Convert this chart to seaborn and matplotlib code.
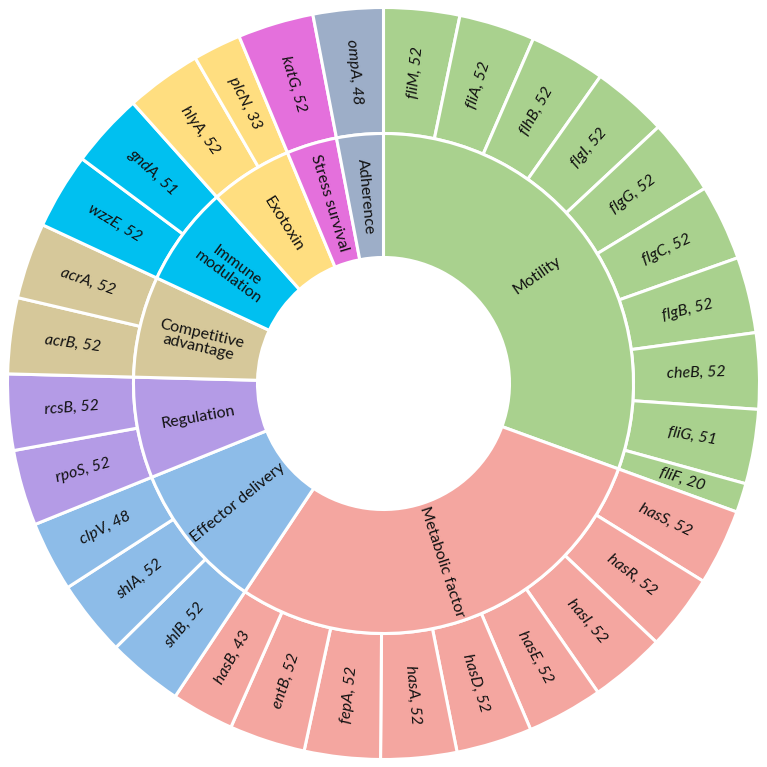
import matplotlib
matplotlib.use("Agg")
import matplotlib.pyplot as plt
import seaborn as sns
import numpy as np

sns.set_theme(style="white")
plt.rcParams['font.family'] = ['Lato', 'DejaVu Sans']

categories = ["Motility", "Metabolic factor", "Effector delivery", "Regulation",
              "Competitive\nadvantage", "Immune\nmodulation", "Exotoxin",
              "Stress survival", "Adherence"]
cat_colors = ["#A9D18E", "#F4A6A0", "#8DBCE8", "#B49BE6", "#D6C89A",
              "#00C0F0", "#FFDE80", "#E470DC", "#9DAEC8"]
genes = [
    ["fliM", "fliA", "flhB", "flgI", "flgG", "flgC", "flgB", "cheB", "fliG", "fliF"],
    ["hasS", "hasR", "hasI", "hasE", "hasD", "hasA", "fepA", "entB", "hasB"],
    ["shlB", "shlA", "clpV"],
    ["rpoS", "rcsB"],
    ["acrB", "acrA"],
    ["wzzE", "gndA"],
    ["hlyA", "plcN"],
    ["katG"],
    ["ompA"],
]
values = [
    [52, 52, 52, 52, 52, 52, 52, 52, 51, 20],
    [52, 52, 52, 52, 52, 52, 52, 52, 43],
    [52, 52, 48],
    [52, 52],
    [52, 52],
    [52, 51],
    [52, 33],
    [52],
    [48],
]

cat_totals = [sum(v) for v in values]
outer_vals = [x for v in values for x in v]
outer_labels = [f"{g}, {x}" for gl, vl in zip(genes, values) for g, x in zip(gl, vl)]
outer_colors = [c for c, v in zip(cat_colors, values) for _ in v]

fig = plt.figure(figsize=(7.67, 7.67), dpi=100)
ax = fig.add_axes([0, 0, 1, 1])

R_out = 1.0
R_mid = 250 / 376
R_in = 126 / 376

wp = dict(edgecolor="white", linewidth=2.2)
w_outer, _ = ax.pie(outer_vals, radius=R_out, colors=outer_colors, startangle=90,
                    counterclock=False, wedgeprops=dict(width=R_out - R_mid, **wp))
w_inner, _ = ax.pie(cat_totals, radius=R_mid, colors=cat_colors, startangle=90,
                    counterclock=False, wedgeprops=dict(width=R_mid - R_in, **wp))


def put_label(w, r, text, style, size):
    th = (w.theta1 + w.theta2) / 2.0
    th_n = ((th + 180) % 360) - 180
    x = r * np.cos(np.deg2rad(th))
    y = r * np.sin(np.deg2rad(th))
    rot = th_n if -90 <= th_n <= 90 else th_n - 180 if th_n > 90 else th_n + 180
    ax.text(x, y, text, rotation=rot, rotation_mode="anchor", ha="center",
            va="center", fontsize=size, style=style, color="#111111",
            linespacing=1.0)


for w, lab in zip(w_outer, outer_labels):
    put_label(w, (R_out + R_mid) / 2, lab, "italic", 11.5)
for w, lab in zip(w_inner, categories):
    put_label(w, (R_mid + R_in) / 2, lab, "normal", 11.5)

half = 383.5 / 376
ax.set_xlim(-half, half)
ax.set_ylim(-half, half)
ax.set_aspect("equal")
ax.axis("off")
fig.savefig("out.png", dpi=100, facecolor="white")
